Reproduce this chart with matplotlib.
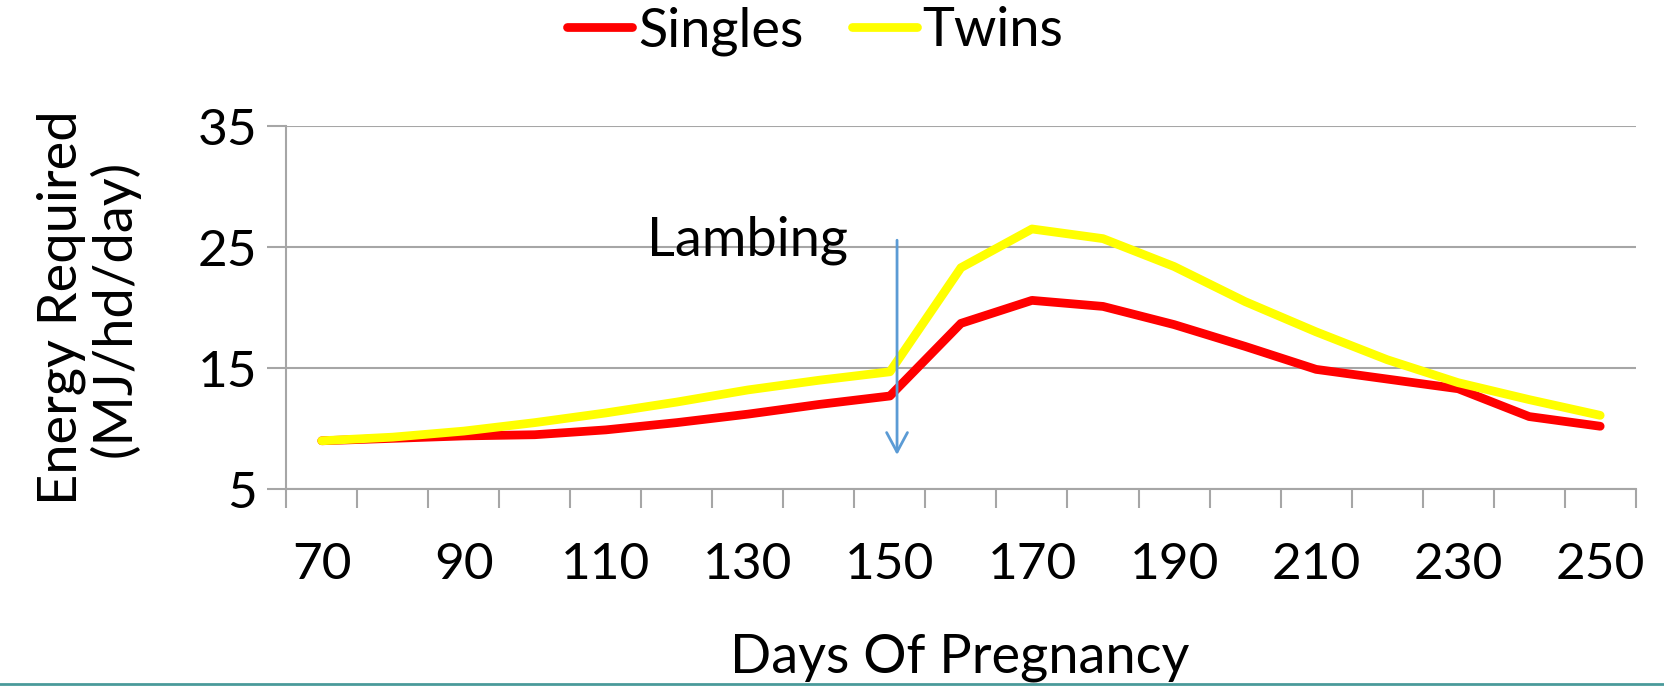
import matplotlib
matplotlib.use('Agg')
import matplotlib.pyplot as plt
from matplotlib.lines import Line2D

# Days of pregnancy (categories) and energy requirements
days = [70, 80, 90, 100, 110, 120, 130, 140, 150, 160,
        170, 180, 190, 200, 210, 220, 230, 240, 250]
singles = [9.0, 9.2, 9.4, 9.5, 9.9, 10.5, 11.2, 12.0, 12.7, 18.7,
           20.6, 20.1, 18.6, 16.8, 14.9, 14.1, 13.3, 11.0, 10.2]
twins = [9.0, 9.3, 9.8, 10.5, 11.3, 12.2, 13.2, 14.0, 14.7, 23.3,
         26.5, 25.7, 23.4, 20.5, 18.0, 15.7, 13.8, 12.4, 11.1]
y_ticks = [5, 15, 25, 35]

plt.rcParams['font.family'] = ['Lato', 'DejaVu Sans']
fs = 39      # titles / annotations
fs_tick = 37
grid_col = '#A6A6A6'

fig = plt.figure(figsize=(16.64, 6.89), dpi=100)
ax = fig.add_axes([0.172, 0.29, 0.811, 0.527])

x = list(range(len(days)))
ax.plot(x, singles, color='#FF0000', lw=6.3, solid_capstyle='round',
        solid_joinstyle='round', label='Singles')
ax.plot(x, twins, color='#FFFF00', lw=6.3, solid_capstyle='round',
        solid_joinstyle='round', label='Twins')

ax.set_xlim(-0.5, len(days) - 0.5)
ax.set_ylim(5, 35)
ax.set_yticks(y_ticks)
ax.yaxis.grid(True, color=grid_col, lw=1.5)
ax.set_axisbelow(True)

# category labels every other day, tick marks between categories
ax.set_xticks(x[::2])
ax.set_xticklabels([str(d) for d in days[::2]])
ax.set_xticks([i - 0.5 for i in range(len(days) + 1)], minor=True)
ax.tick_params(axis='x', which='major', length=0, pad=38, labelsize=fs_tick)
ax.tick_params(axis='x', which='minor', length=14, width=1.5, color=grid_col)
ax.tick_params(axis='y', length=14, width=1.5, color=grid_col, pad=7, labelsize=fs_tick)

for s in ['top', 'right']:
    ax.spines[s].set_visible(False)
for s in ['left', 'bottom']:
    ax.spines[s].set_color(grid_col)
    ax.spines[s].set_linewidth(1.5)

# lambing annotation
ax.annotate('', xy=(8.1, 7.6), xytext=(8.1, 25.8),
            arrowprops=dict(arrowstyle='->,head_length=1.4,head_width=0.75',
                            color='#5B9BD5', lw=2))
ax.text(6.0, 25.6, 'Lambing', fontsize=fs, ha='center', va='center')

fig.text(0.577, 0.045, 'Days Of Pregnancy', fontsize=fs, ha='center', va='center')
fig.text(0.053, 0.553, 'Energy Required\n(MJ/hd/day)', rotation=90,
         fontsize=fs, ha='center', va='center', linespacing=1.05)

fig.legend(loc='center', bbox_to_anchor=(0.49, 0.955), ncol=2, frameon=False,
           fontsize=fs, handlelength=1.2, handletextpad=0.1, columnspacing=0.9)

# teal rule at the bottom edge
fig.add_artist(Line2D([0, 1], [0.007, 0.007], color='#4A9A9A', lw=2,
                      transform=fig.transFigure))

fig.savefig('out.png', dpi=100)
